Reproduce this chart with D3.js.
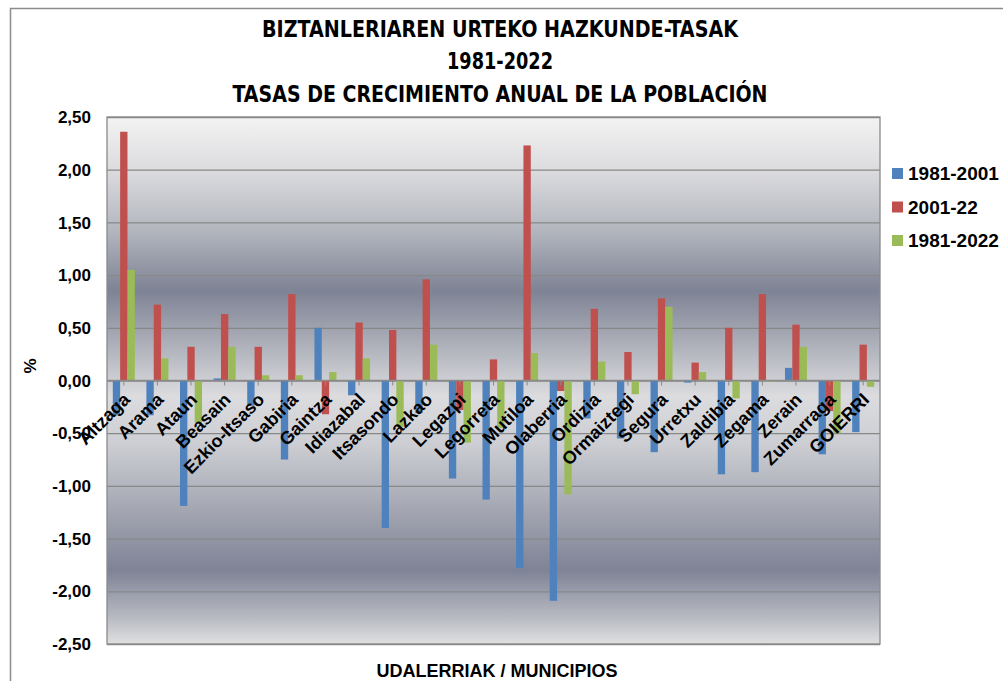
<!DOCTYPE html>
<html>
<head>
<meta charset="utf-8">
<script src="https://cdn.jsdelivr.net/npm/d3@7"></script>
<style>
  body { margin: 0; background: #fff; }
  svg { display: block; font-family: Arial, 'Liberation Sans', sans-serif; }
</style>
</head>
<body>
<svg width="1003" height="681"></svg>
<script>
'use strict'

const categories = ['Altzaga', 'Arama', 'Ataun', 'Beasain', 'Ezkio-Itsaso', 'Gabiria', 'Gaintza', 'Idiazabal',
  'Itsasondo', 'Lazkao', 'Legazpi', 'Legorreta', 'Mutiloa', 'Olaberria', 'Ordizia', 'Ormaiztegi', 'Segura',
  'Urretxu', 'Zaldibia', 'Zegama', 'Zerain', 'Zumarraga', 'GOIERRI']

const seriesNames = ['1981-2001', '2001-22', '1981-2022']

const rate1981_2001 = [-0.33, -0.33, -1.19, 0.02, -0.24, -0.75, 0.50, -0.14, -1.40, -0.31, -0.93, -1.13,
  -1.78, -2.09, -0.36, -0.55, -0.68, -0.02, -0.89, -0.87, 0.12, -0.70, -0.49]
const rate2001_22 = [2.36, 0.72, 0.32, 0.63, 0.32, 0.82, -0.32, 0.55, 0.48, 0.96, -0.28, 0.20,
  2.23, -0.10, 0.68, 0.27, 0.78, 0.17, 0.50, 0.82, 0.53, -0.29, 0.34]
const rate1981_2022 = [1.05, 0.21, -0.40, 0.32, 0.05, 0.05, 0.08, 0.21, -0.44, 0.34, -0.59, -0.45,
  0.26, -1.08, 0.18, -0.13, 0.70, 0.08, -0.17, -0.01, 0.32, -0.50, -0.06]

const yTicks = [2.5, 2, 1.5, 1, 0.5, 0, -0.5, -1, -1.5, -2, -2.5]

const titleLines = ['BIZTANLERIAREN URTEKO HAZKUNDE-TASAK', '1981-2022', 'TASAS DE CRECIMIENTO ANUAL DE LA POBLACIÓN']

const colors = ['#4f81bd', '#c0504d', '#9bbb59']

const margin = { top: 117, right: 123, bottom: 37, left: 107 }
const width = 1003 - margin.left - margin.right,
  height = 681 - margin.top - margin.bottom

const svg = d3.select('svg')

// outer chart frame
svg.append('rect')
  .attr('x', 10.5).attr('y', 8.5)
  .attr('width', 1100).attr('height', 800)
  .attr('fill', '#fff')
  .attr('stroke', '#8c8c8c')
  .attr('stroke-width', 1.5)

const defs = svg.append('defs')
const grad = defs.append('linearGradient')
  .attr('id', 'plotBg')
  .attr('x1', 0).attr('y1', 0).attr('x2', 0).attr('y2', 1)
const stops = [
  [0, '#f3f3f3'], [0.1, '#dcdcdf'], [0.22, '#b1b4bc'], [0.33, '#7e8395'],
  [0.42, '#a8abb5'], [0.53, '#dcdcdf'], [0.62, '#ccced3'], [0.75, '#a2a5b0'],
  [0.86, '#7e8396'], [0.95, '#b8bac2'], [1, '#e0e0e0']
]
stops.forEach(s => grad.append('stop').attr('offset', s[0]).attr('stop-color', s[1]))

const g = svg.append('g')
  .attr('transform', 'translate(' + margin.left + ',' + margin.top + ')')

const yScale = d3.scaleLinear().domain([-2.5, 2.5]).range([height, 0])

const x0 = d3.scaleBand()
  .domain(categories)
  .range([0, width])
  .paddingInner(0.345)
  .paddingOuter(0.1725)

const x1 = d3.scaleBand()
  .domain(seriesNames)
  .range([0, x0.bandwidth()])

g.append('rect')
  .attr('width', width)
  .attr('height', height)
  .attr('fill', 'url(#plotBg)')

// gridlines
g.append('g')
  .attr('class', 'grid')
  .call(d3.axisLeft(yScale).tickValues(yTicks).tickSize(-width).tickFormat(''))
  .call(s => s.select('.domain').remove())
  .call(s => s.selectAll('line').attr('stroke', '#888').attr('stroke-width', 1.3))

g.append('rect')
  .attr('width', width)
  .attr('height', height)
  .attr('fill', 'none')
  .attr('stroke', '#8a8a8a')
  .attr('stroke-width', 1.3)

// y labels
const fmt = v => d3.format('.2f')(v).replace('.', ',').replace('−', '-')
g.append('g')
  .selectAll('text')
  .data(yTicks)
  .enter()
  .append('text')
  .attr('x', -16)
  .attr('y', d => yScale(d))
  .attr('dy', '0.36em')
  .attr('text-anchor', 'end')
  .style('font-size', '17px')
  .style('font-weight', 'bold')
  .text(fmt)

const rows = categories.map((c, i) => ({
  name: c,
  values: [rate1981_2001[i], rate2001_22[i], rate1981_2022[i]]
}))

const groups = g.append('g')
  .selectAll('g')
  .data(rows)
  .enter()
  .append('g')
  .attr('transform', d => 'translate(' + x0(d.name) + ',0)')

groups.selectAll('rect')
  .data(d => d.values.map((v, k) => ({ key: seriesNames[k], value: v, k: k })))
  .enter()
  .append('rect')
  .attr('x', d => x1(d.key))
  .attr('width', x1.bandwidth())
  .attr('y', d => yScale(Math.max(0, d.value)))
  .attr('height', d => Math.abs(yScale(d.value) - yScale(0)))
  .attr('fill', d => colors[d.k])

// zero axis with ticks
const zero = g.append('g').attr('transform', 'translate(0,' + yScale(0) + ')')
zero.append('line')
  .attr('x1', 0).attr('x2', width)
  .attr('stroke', '#8a8a8a').attr('stroke-width', 1.3)
zero.selectAll('.tk')
  .data(categories)
  .enter()
  .append('line')
  .attr('class', 'tk')
  .attr('x1', d => x0(d) + x0.bandwidth() / 2)
  .attr('x2', d => x0(d) + x0.bandwidth() / 2)
  .attr('y1', 0).attr('y2', 5)
  .attr('stroke', '#8a8a8a')

// category labels
g.append('g')
  .selectAll('text')
  .data(categories)
  .enter()
  .append('text')
  .attr('transform', d => 'translate(' + (x0(d) + x0.bandwidth() / 2 - 2) + ',' + (yScale(0) + 11) + ') rotate(-45)')
  .attr('dy', '0.72em')
  .attr('text-anchor', 'end')
  .style('font-size', '18px')
  .style('font-weight', 'bold')
  .text(d => d)

// y axis title
svg.append('text')
  .attr('transform', 'translate(36,366) rotate(-90)')
  .attr('text-anchor', 'middle')
  .style('font-size', '17px')
  .style('font-weight', 'bold')
  .text('%')

// x axis title
svg.append('text')
  .attr('x', 497)
  .attr('y', 677)
  .attr('text-anchor', 'middle')
  .style('font-size', '18px')
  .style('font-weight', 'bold')
  .text('UDALERRIAK / MUNICIPIOS')

// title
const titleWidths = [476, 106, 535]
const titleY = [37, 69, 102]
titleLines.forEach((t, i) => {
  svg.append('text')
    .attr('x', 500)
    .attr('y', titleY[i])
    .attr('text-anchor', 'middle')
    .attr('textLength', titleWidths[i])
    .attr('lengthAdjust', 'spacingAndGlyphs')
    .style('font-family', "'Liberation Sans Narrow', 'DejaVu Sans Condensed', Arial, sans-serif")
    .style('font-size', '23px')
    .style('font-weight', 'bold')
    .text(t)
})

// legend
const legend = svg.append('g').attr('transform', 'translate(892,168)')
seriesNames.forEach((s, i) => {
  const row = legend.append('g').attr('transform', 'translate(0,' + i * 33.5 + ')')
  row.append('rect').attr('width', 11).attr('height', 11).attr('fill', colors[i])
  row.append('text')
    .attr('x', 16)
    .attr('y', 12)
    .style('font-size', '19px')
    .style('font-weight', 'bold')
    .text(s)
})
</script>
</body>
</html>
